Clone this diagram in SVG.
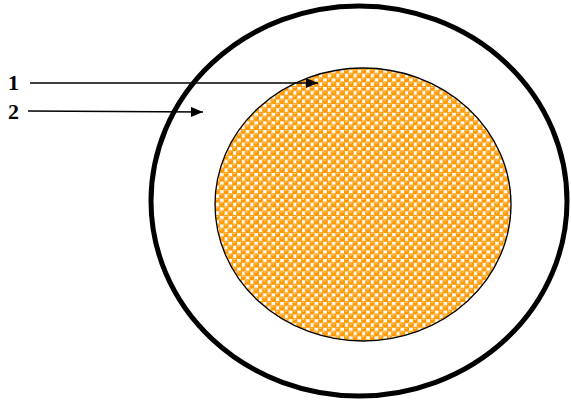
<svg xmlns="http://www.w3.org/2000/svg" width="571" height="400" viewBox="0 0 571 400">
<style>
.lbl{font-family:"Liberation Serif","Times New Roman",serif;font-weight:bold;font-size:22px;fill:#000}
.conn{stroke:#000;stroke-width:1.3;fill:none}
</style>
<defs>
<pattern id="dots" width="8.6" height="8.6" patternUnits="userSpaceOnUse">
<rect width="8.6" height="8.6" fill="#fff"/>
<rect x="-0.3" y="-0.3" width="5.3" height="5.3" rx="2" fill="#f90"/>
<rect x="4" y="4" width="5.3" height="5.3" rx="2" fill="#f90"/>
<rect x="-4.3" y="4" width="5.3" height="5.3" rx="2" fill="#f90"/>
<rect x="4" y="-4.3" width="5.3" height="5.3" rx="2" fill="#f90"/>
<rect x="1" y="1" width="2.2" height="0.9" fill="#fde0b0"/>
<rect x="5.3" y="5.3" width="2.2" height="0.9" fill="#fde0b0"/>
</pattern>
<marker id="ah" viewBox="0 0 12 10" refX="12" refY="5" markerWidth="13" markerHeight="10" markerUnits="userSpaceOnUse" orient="auto">
<path d="M0,0 L12,5 L0,10 Z" fill="#000"/>
</marker>
</defs>
<rect width="571" height="400" fill="#fff"/>
<g id="outer">
<ellipse cx="359" cy="201" rx="208" ry="195" fill="none" stroke="#000" stroke-width="5"/>
</g>
<g id="inner">
<ellipse cx="363" cy="204.5" rx="148" ry="136.5" fill="url(#dots)" stroke="#000" stroke-width="1.3"/>
</g>
<g id="label1"><text class="lbl" x="8" y="90">1</text></g>
<g id="label2"><text class="lbl" x="8" y="119">2</text></g>
<g id="connectors">
<line class="conn" x1="30" y1="83" x2="318" y2="83" marker-end="url(#ah)"/>
<line class="conn" x1="28" y1="111" x2="203" y2="112" marker-end="url(#ah)"/>
</g>
</svg>
